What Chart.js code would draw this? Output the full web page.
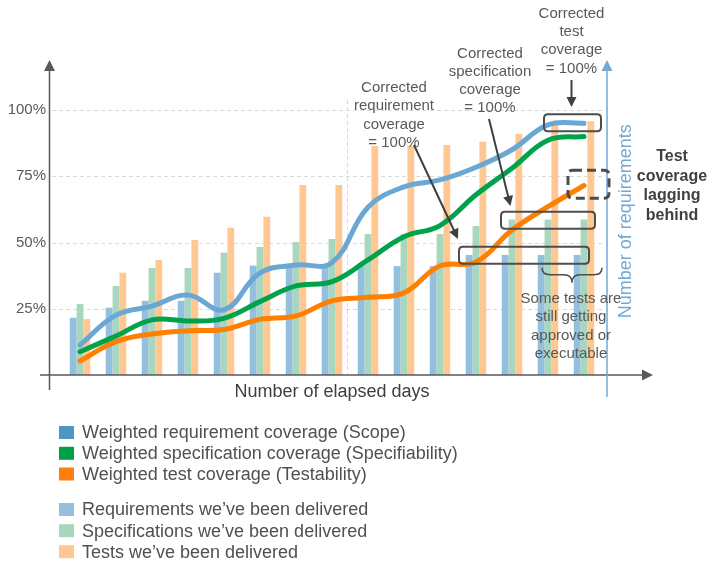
<!DOCTYPE html>
<html>
<head>
<meta charset="utf-8">
<script src="https://cdn.jsdelivr.net/npm/chart.js@4/dist/chart.umd.min.js"></script>
<style>
  html, body { margin: 0; padding: 0; background: #fff; }
  canvas { display: block; }
</style>
</head>
<body>
<canvas id="coverage" width="714" height="570"></canvas>
<script>
// elapsed days (no tick labels shown on the x axis)
let days = ['1','2','3','4','5','6','7','8','9','10','11','12','13','14','15'];

// delivered items, % of final scope (bars)
let reqDelivered  = [21.6, 25.4, 28.0, 28.0, 38.6, 41.3, 41.3, 41.3, 41.8, 41.1, 41.1, 45.3, 45.3, 45.3, 45.3];
let specDelivered = [26.8, 33.6, 40.4, 40.4, 46.2, 48.3, 50.2, 51.3, 53.2, 53.2, 53.2, 56.2, 58.7, 58.7, 58.7];
let testDelivered = [21.1, 38.6, 43.4, 50.9, 55.6, 59.7, 71.7, 71.7, 86.4, 86.4, 86.8, 88.0, 90.9, 95.8, 95.8];

// weighted coverage (lines)
let reqCoverage  = [11.3, 22.6, 26.0, 30.2, 24.6, 38.5, 41.5, 42.4, 63.3, 71.0, 73.6, 78.4, 85.0, 94.4, 95.0];
let specCoverage = [ 8.8, 14.7, 20.8, 20.4, 21.4, 27.7, 33.6, 35.2, 43.4, 52.2, 56.4, 68.0, 78.0, 88.6, 90.0];
let testCoverage = [ 5.3, 12.6, 15.5, 16.7, 17.2, 21.0, 22.3, 28.0, 29.3, 31.0, 41.2, 42.6, 54.7, 63.5, 71.5];

let yTicks = [25, 50, 75, 100];

const FONT = "'Liberation Sans', Arial, sans-serif";
Chart.defaults.font.family = FONT;

function arrowHead(c, x, y, ang, len, half) {
    c.beginPath();
    c.moveTo(x, y);
    c.lineTo(x - len * Math.cos(ang) + half * Math.sin(ang), y - len * Math.sin(ang) - half * Math.cos(ang));
    c.lineTo(x - len * Math.cos(ang) - half * Math.sin(ang), y - len * Math.sin(ang) + half * Math.cos(ang));
    c.closePath();
    c.fill();
}

function arrow(c, x1, y1, x2, y2) {
    let ang = Math.atan2(y2 - y1, x2 - x1);
    c.beginPath();
    c.moveTo(x1, y1);
    c.lineTo(x2 - 8 * Math.cos(ang), y2 - 8 * Math.sin(ang));
    c.stroke();
    arrowHead(c, x2, y2, ang, 10, 5);
}

function roundBox(c, x, y, w, h, r) {
    c.beginPath();
    c.moveTo(x + r, y);
    c.lineTo(x + w - r, y);
    c.quadraticCurveTo(x + w, y, x + w, y + r);
    c.lineTo(x + w, y + h - r);
    c.quadraticCurveTo(x + w, y + h, x + w - r, y + h);
    c.lineTo(x + r, y + h);
    c.quadraticCurveTo(x, y + h, x, y + h - r);
    c.lineTo(x, y + r);
    c.quadraticCurveTo(x, y, x + r, y);
    c.closePath();
    c.stroke();
}

function textLines(c, lines, x, y, step) {
    lines.forEach((t, i) => c.fillText(t, x, y + i * step));
}

const overlay = {
    id: 'overlay',
    beforeDatasetsDraw(chart) {
        let c = chart.ctx, xs = chart.scales.x, ys = chart.scales.y;
        c.save();
        c.strokeStyle = '#d9d9d9';
        c.lineWidth = 1;
        c.setLineDash([4, 3]);
        yTicks.forEach(v => {
            let y = Math.round(ys.getPixelForValue(v)) + 0.5;
            c.beginPath();
            c.moveTo(52, y);
            c.lineTo(xs.getPixelForValue(14) + 19, y);
            c.stroke();
        });
        let vx = Math.round(xs.getPixelForValue(7) + 15) + 0.5;
        c.beginPath();
        c.moveTo(vx, ys.getPixelForValue(100) - 10);
        c.lineTo(vx, ys.getPixelForValue(0));
        c.stroke();
        c.restore();
    },
    afterDraw(chart) {
        let c = chart.ctx, xs = chart.scales.x, ys = chart.scales.y;
        let px = i => xs.getPixelForValue(i);
        let py = v => ys.getPixelForValue(v);
        let base = py(0);
        c.save();

        // axes with arrows
        c.strokeStyle = '#595959';
        c.fillStyle = '#595959';
        c.lineWidth = 1.5;
        c.beginPath();
        c.moveTo(49.5, base + 15);
        c.lineTo(49.5, 68);
        c.stroke();
        arrowHead(c, 49.5, 60, -Math.PI / 2, 11, 5.5);
        c.beginPath();
        c.moveTo(40, base);
        c.lineTo(645, base);
        c.stroke();
        arrowHead(c, 653, base, 0, 11, 5.5);

        // secondary axis (number of requirements)
        let rx = px(14) + 23;
        c.strokeStyle = '#72aad6';
        c.fillStyle = '#72aad6';
        c.beginPath();
        c.moveTo(rx, base + 22);
        c.lineTo(rx, 68);
        c.stroke();
        arrowHead(c, rx, 60, -Math.PI / 2, 11, 5.5);
        c.save();
        c.translate(rx + 19, py(58));
        c.rotate(-Math.PI / 2);
        c.font = '18px ' + FONT;
        c.textAlign = 'center';
        c.textBaseline = 'middle';
        c.fillText('Number of requirements', 0, 0);
        c.restore();

        // annotation boxes
        c.strokeStyle = '#4d4d4d';
        c.lineWidth = 2;
        roundBox(c, px(13) - 4, py(95) - 9, px(14) - px(13) + 21, 17, 4);
        roundBox(c, px(12) - 11, py(58.4) - 8.5, px(14) - px(12) + 22, 17, 4);
        roundBox(c, px(11) - 17, py(45.2) - 8.5, px(14) - px(11) + 22, 17, 4);
        c.lineWidth = 3;
        c.setLineDash([9, 5]);
        roundBox(c, px(14) - 16, py(72) - 14, 41, 28, 5);
        c.setLineDash([]);

        // brace under last two groups
        let bl = px(13) - 6, br = px(14) + 18, bm = (bl + br) / 2, bt = py(40.5);
        c.lineWidth = 1.5;
        c.beginPath();
        c.moveTo(bl, bt);
        c.quadraticCurveTo(bl, bt + 7, bl + 8, bt + 7);
        c.lineTo(bm - 8, bt + 7);
        c.quadraticCurveTo(bm, bt + 7, bm, bt + 15);
        c.quadraticCurveTo(bm, bt + 7, bm + 8, bt + 7);
        c.lineTo(br - 8, bt + 7);
        c.quadraticCurveTo(br, bt + 7, br, bt);
        c.stroke();

        // arrows
        c.strokeStyle = '#404040';
        c.fillStyle = '#404040';
        c.lineWidth = 2;
        arrow(c, 571.5, 80, 571.5, 107);
        arrow(c, 489, 119, 510.5, 206);
        arrow(c, 414, 145, 458, 239);

        // annotation texts
        c.fillStyle = '#595959';
        c.font = '15px ' + FONT;
        c.textAlign = 'center';
        c.textBaseline = 'middle';
        textLines(c, ['Corrected', 'test', 'coverage', '= 100%'], 571.5, 13.5, 18.3);
        textLines(c, ['Corrected', 'specification', 'coverage', '= 100%'], 490, 53.5, 18);
        textLines(c, ['Corrected', 'requirement', 'coverage', '= 100%'], 394, 88, 18.3);
        textLines(c, ['Some tests are', 'still getting', 'approved or', 'executable'], 571, 299, 18.3);

        c.fillStyle = '#404040';
        c.font = 'bold 16px ' + FONT;
        textLines(c, ['Test', 'coverage', 'lagging', 'behind'], 672, 157, 19.4);

        // legend
        let rows = [432.5, 453.3, 474, 509.5, 530.7, 551.7];
        let order = [0, 1, 2, 3, 4, 5];
        c.textAlign = 'left';
        c.font = '18px ' + FONT;
        order.forEach((di, k) => {
            let ds = chart.data.datasets[di];
            c.fillStyle = ds.swatch;
            c.fillRect(59, rows[k] - 6.5, 15, 13);
            c.fillStyle = '#505050';
            c.fillText(ds.label, 82, rows[k] + 1);
        });
        c.restore();
    }
};

let ctx = document.getElementById('coverage').getContext('2d');
let chart = new Chart(ctx, {
    type: 'bar',
    data: {
        labels: days,
        datasets: [
            { type: 'line', label: 'Weighted requirement coverage (Scope)', data: reqCoverage,
              borderColor: '#6aa7d3', swatch: '#4f96c5', borderWidth: 5, pointRadius: 0, tension: 0.4,
              borderCapStyle: 'round', order: 0 },
            { type: 'line', label: 'Weighted specification coverage (Specifiability)', data: specCoverage,
              borderColor: '#00a34c', swatch: '#00a04b', borderWidth: 5, pointRadius: 0, tension: 0.4,
              borderCapStyle: 'round', order: 0 },
            { type: 'line', label: 'Weighted test coverage (Testability)', data: testCoverage,
              borderColor: '#ff7f00', swatch: '#ff7f0e', borderWidth: 5, pointRadius: 0, tension: 0.4,
              borderCapStyle: 'round', order: 0 },
            { label: 'Requirements we\u2019ve been delivered', data: reqDelivered,
              backgroundColor: '#94c0dd', swatch: '#94c0dd', barPercentage: 1, categoryPercentage: 0.57, order: 1 },
            { label: 'Specifications we\u2019ve been delivered', data: specDelivered,
              backgroundColor: '#a9d7bd', swatch: '#a9d7bd', barPercentage: 1, categoryPercentage: 0.57, order: 1 },
            { label: 'Tests we\u2019ve been delivered', data: testDelivered,
              backgroundColor: '#ffc792', swatch: '#ffc792', barPercentage: 1, categoryPercentage: 0.57, order: 1 }
        ]
    },
    options: {
        responsive: false,
        animation: false,
        layout: { padding: { left: 0, right: 112, top: 110, bottom: 165 } },
        plugins: { legend: { display: false }, tooltip: { enabled: false } },
        scales: {
            x: {
                grid: { display: false, drawTicks: false },
                border: { display: false },
                ticks: { display: false },
                title: { display: true, text: 'Number of elapsed days', color: '#404040',
                         font: { size: 18 }, padding: { top: 0, bottom: 2 } },
                afterFit: s => { s.height = 30; }
            },
            y: {
                min: 0, max: 100,
                grid: { display: false, drawTicks: false },
                border: { display: false },
                ticks: { stepSize: 25, padding: 16, color: '#595959', font: { size: 15 },
                         callback: v => v ? v + '%' : '' },
                afterFit: s => { s.width = 62; }
            }
        }
    },
    plugins: [overlay]
});
</script>
</body>
</html>
